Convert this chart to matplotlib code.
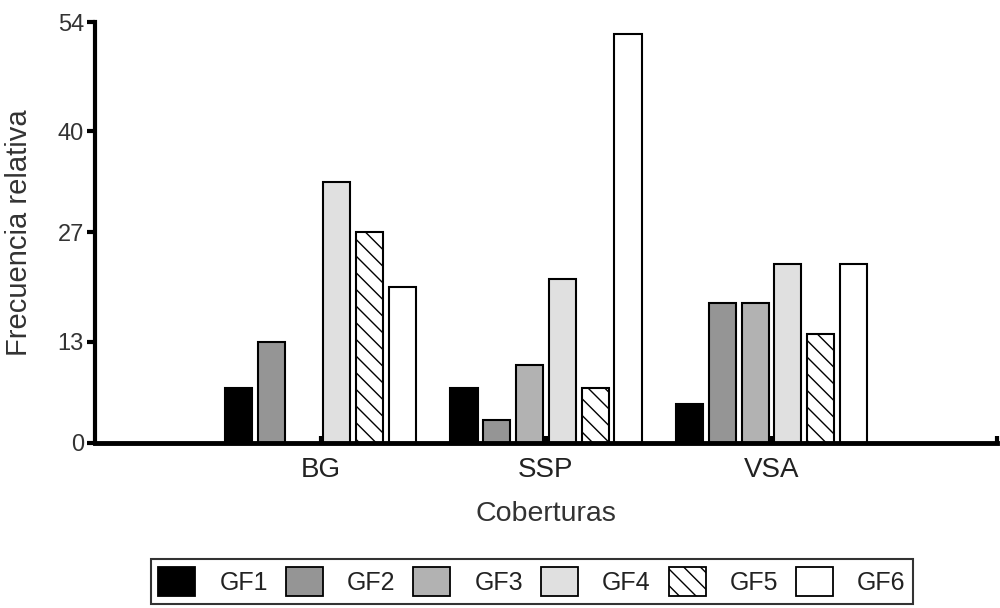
import numpy as np
import matplotlib.pyplot as plt
from matplotlib.patches import Patch

plt.rcParams['font.family'] = ['Liberation Sans', 'DejaVu Sans']
plt.rcParams['hatch.linewidth'] = 1.0

coberturas = ['BG', 'SSP', 'VSA']
grupos = ['GF1', 'GF2', 'GF3', 'GF4', 'GF5', 'GF6']
valores = {
    'GF1': [7.0, 7.0, 5.0],
    'GF2': [13.0, 3.0, 18.0],
    'GF3': [0.0, 10.0, 18.0],
    'GF4': [33.5, 21.0, 23.0],
    'GF5': [27.0, 7.0, 14.0],
    'GF6': [20.0, 52.5, 23.0],
}
y_ticks = [0, 13, 27, 40, 54]

colores = ['#000000', '#959595', '#b2b2b2', '#e0e0e0', '#ffffff', '#ffffff']
tramas = [None, None, None, None, '\\\\', None]

fig = plt.figure(figsize=(10, 6.08), dpi=100)
ax = fig.add_axes([0.095, 0.2714, 0.902, 0.6924])

x = np.arange(1, len(coberturas) + 1)
paso = 0.1455
ancho = 0.12
handles = []
for k, g in enumerate(grupos):
    pos = x + (k - 2.5) * paso
    vals = np.array(valores[g])
    ax.bar(pos, vals, width=ancho, color=colores[k], edgecolor='black',
           linewidth=1.5, hatch=tramas[k], zorder=2)
    handles.append(Patch(facecolor=colores[k], edgecolor='black',
                         linewidth=1.3, hatch=tramas[k], label=g))

ax.set_xlim(0, 4)
ax.set_ylim(0, 54)
ax.set_yticks(y_ticks)
ax.set_xticks([1, 2, 3, 4])
ax.set_xticklabels(coberturas + [''])
ax.tick_params(axis='y', direction='out', length=6, width=3, labelsize=17,
               labelcolor='#333333', pad=2)
ax.tick_params(axis='x', direction='in', length=5, width=3, labelsize=20,
               labelcolor='#222222', pad=10)

for s in ['top', 'right']:
    ax.spines[s].set_visible(False)
ax.spines['left'].set_linewidth(3)
ax.spines['bottom'].set_linewidth(3.5)
ax.spines['bottom'].set_zorder(3)

ax.set_ylabel('Frecuencia relativa', fontsize=21, color='#333333')
ax.yaxis.set_label_coords(-0.069, 0.5)
ax.set_xlabel('Coberturas', fontsize=20.5, color='#333333', labelpad=13)

leg = fig.legend(handles=handles, loc='center', bbox_to_anchor=(0.532, 0.0436),
                 ncol=6, fontsize=18, frameon=True, fancybox=False,
                 handlelength=1.48, handleheight=1.44, handletextpad=0.96,
                 columnspacing=0.72, borderpad=0.3)
leg.get_frame().set_edgecolor('black')
leg.get_frame().set_linewidth(1.5)
for t in leg.get_texts():
    t.set_color('#222222')

fig.savefig('out.png', dpi=100)
